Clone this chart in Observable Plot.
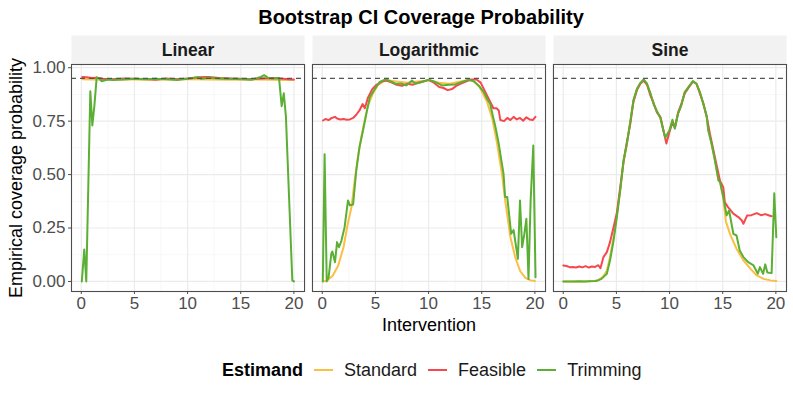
<!DOCTYPE html>
<html>
<head>
<meta charset="utf-8">
<script src="https://cdn.jsdelivr.net/npm/d3@7"></script>
<script src="https://cdn.jsdelivr.net/npm/@observablehq/plot@0.6"></script>
<style>
  html, body { margin: 0; padding: 0; background: white; }
  body { width: 793px; height: 397px; position: relative; overflow: hidden; font-family: "Liberation Sans", Arial, sans-serif; }
  #title { position: absolute; left: 71px; width: 700px; top: 0; height: 34px; line-height: 34px; text-align: center; font-weight: bold; font-size: 20px; color: #000; }
  #chart { position: absolute; left: 0; top: 33px; }
  #legend { position: absolute; left: 222px; top: 359px; height: 22px; display: flex; align-items: center; font-size: 18px; color: #1a1a1a; white-space: nowrap; }
  #legend .hd { font-weight: bold; color: #000; margin-right: 11px; }
  #legend .sw { width: 19px; height: 2px; margin-right: 11px; }
  #legend .lb { margin-right: 11px; }
</style>
</head>
<body>
<div id="title">Bootstrap CI Coverage Probability</div>
<div id="chart"></div>
<div id="legend"></div>
<script>
// ---- categories / labels ----
const panels = ["Linear", "Logarithmic", "Sine"];
const estimands = ["Standard", "Feasible", "Trimming"];
const estimandColors = ["#FBBF45", "#F7484E", "#5BAF35"];
const xTicks = [0, 5, 10, 15, 20];
const xMinorTicks = [2.5, 7.5, 12.5, 17.5];
const yTicks = [0, 0.25, 0.5, 0.75, 1];
const yMinorTicks = [0.125, 0.375, 0.625, 0.875];
const targetLevel = [0.95];
const titleText = "Bootstrap CI Coverage Probability";
const xLabel = "Intervention";
const yLabel = "Empirical coverage probability";
const legendTitle = "Estimand";

// ---- Linear ----
const linStdX = [0.1, 2, 4, 6, 8, 10, 12, 14, 16, 18, 19, 20];
const linStdY = [0.946, 0.944, 0.946, 0.944, 0.945, 0.946, 0.945, 0.944, 0.945, 0.944, 0.943, 0.943];
const linFeaX = [0.1, 0.5, 1, 1.5, 2, 3, 4, 5, 6, 7, 8, 9, 10, 11, 12, 13, 14, 15, 16, 17, 18, 19, 19.5, 20];
const linFeaY = [0.957, 0.955, 0.952, 0.953, 0.948, 0.946, 0.950, 0.948, 0.947, 0.944, 0.949, 0.946, 0.950, 0.955, 0.957, 0.952, 0.950, 0.948, 0.946, 0.950, 0.952, 0.948, 0.946, 0.945];
const linTrimX = [0.05, 0.28, 0.47, 0.85, 1.04, 1.23, 1.45, 1.7, 1.9, 2.5, 3, 4, 5, 6, 7, 8, 9, 10, 10.5, 11, 11.3, 12, 13, 14, 15, 16, 16.8, 17.2, 17.6, 18, 18.6, 18.85, 19.05, 19.25, 19.85, 20.0];
const linTrimY = [0, 0.15, 0, 0.89, 0.73, 0.82, 0.955, 0.95, 0.937, 0.945, 0.942, 0.945, 0.948, 0.946, 0.948, 0.946, 0.942, 0.948, 0.952, 0.955, 0.948, 0.953, 0.95, 0.948, 0.946, 0.944, 0.955, 0.965, 0.952, 0.95, 0.952, 0.82, 0.88, 0.77, 0.005, 0];

// ---- Logarithmic ----
const logStdX = [0.07, 0.5, 1, 1.5, 2, 2.4, 2.75, 3.05, 3.35, 3.67, 3.97, 4.3, 4.75, 5.2, 5.7, 6.2, 7, 8, 9, 10, 11, 12, 13, 13.8, 14.3, 14.8, 15.5, 16, 16.45, 16.9, 17.2, 17.7, 18.15, 18.6, 19.1, 19.6, 20];
const logStdY = [0, 0.005, 0.028, 0.075, 0.16, 0.27, 0.348, 0.473, 0.58, 0.675, 0.75, 0.823, 0.878, 0.917, 0.935, 0.94, 0.935, 0.93, 0.935, 0.94, 0.93, 0.925, 0.935, 0.942, 0.935, 0.91, 0.84, 0.76, 0.644, 0.504, 0.38, 0.207, 0.114, 0.05, 0.017, 0.005, 0.002];
const logFeaX = [0.07, 0.3, 0.6, 0.9, 1.2, 1.4, 1.7, 2.0, 2.3, 2.6, 2.9, 3.2, 3.5, 3.8, 4.0, 4.3, 4.7, 5.1, 5.6, 6.0, 6.5, 7.0, 7.5, 8.0, 8.5, 9.0, 9.5, 10, 10.5, 11, 11.4, 11.8, 12.2, 12.6, 13, 13.5, 14, 14.5, 14.9, 15.2, 15.65, 15.9, 16.1, 16.4, 16.6, 16.75, 17.1, 17.4, 17.7, 18, 18.3, 18.6, 18.9, 19.2, 19.5, 19.8, 20.05];
const logFeaY = [0.753, 0.76, 0.755, 0.765, 0.77, 0.762, 0.758, 0.76, 0.757, 0.758, 0.765, 0.78, 0.8, 0.83, 0.81, 0.86, 0.9, 0.92, 0.935, 0.94, 0.932, 0.92, 0.915, 0.925, 0.92, 0.93, 0.935, 0.943, 0.93, 0.91, 0.905, 0.895, 0.9, 0.915, 0.925, 0.935, 0.945, 0.945, 0.93, 0.90, 0.855, 0.83, 0.81, 0.81, 0.80, 0.755, 0.75, 0.765, 0.755, 0.77, 0.758, 0.765, 0.752, 0.768, 0.758, 0.755, 0.77];
const logTrimX = [0.05, 0.22, 0.42, 0.6, 0.85, 0.95, 1.2, 1.39, 1.57, 1.8, 2.1, 2.42, 2.6, 2.9, 3.2, 3.5, 3.84, 4.15, 4.47, 4.94, 5.4, 5.7, 6.0, 6.5, 6.86, 7.5, 7.9, 8.44, 8.75, 9.38, 10.0, 10.65, 11.26, 11.9, 12.5, 13.14, 13.77, 14.25, 14.7, 15.2, 15.5, 15.8, 16.0, 16.3, 16.6, 16.9, 17.05, 17.2, 17.4, 17.77, 18.0, 18.4, 18.6, 18.8, 19.0, 19.2, 19.4, 19.6, 19.85, 20.06];
const logTrimY = [0, 0.595, 0, 0.02, 0.13, 0.14, 0.09, 0.184, 0.16, 0.19, 0.254, 0.379, 0.356, 0.36, 0.52, 0.628, 0.707, 0.785, 0.862, 0.90, 0.933, 0.94, 0.945, 0.935, 0.925, 0.925, 0.917, 0.94, 0.925, 0.933, 0.944, 0.933, 0.917, 0.92, 0.922, 0.933, 0.944, 0.937, 0.917, 0.886, 0.855, 0.83, 0.785, 0.72, 0.644, 0.55, 0.504, 0.395, 0.395, 0.223, 0.24, 0.106, 0.379, 0.16, 0.22, 0.293, 0.012, 0.379, 0.636, 0.02];

// ---- Sine ----
const sinStdX = [0, 1, 2, 3, 3.3, 3.7, 4.1, 4.4, 4.73, 5.04, 5.36, 5.67, 5.98, 6.3, 6.6, 6.93, 7.25, 7.56, 7.88, 8.2, 8.5, 8.82, 9.14, 9.45, 9.6, 10.0, 10.27, 10.5, 10.8, 11.1, 11.43, 11.9, 12.2, 12.53, 12.85, 13.17, 13.5, 13.64, 13.95, 14.27, 14.6, 14.75, 15.05, 15.3, 15.7, 16.3, 16.95, 17.6, 18.2, 18.85, 19.5, 20.04];
const sinStdY = [0, 0, 0, 0.003, 0.006, 0.02, 0.05, 0.115, 0.205, 0.31, 0.43, 0.56, 0.64, 0.745, 0.845, 0.90, 0.928, 0.943, 0.925, 0.88, 0.83, 0.795, 0.765, 0.70, 0.675, 0.707, 0.75, 0.72, 0.785, 0.823, 0.886, 0.917, 0.935, 0.925, 0.886, 0.83, 0.77, 0.707, 0.644, 0.566, 0.473, 0.465, 0.39, 0.28, 0.22, 0.153, 0.098, 0.06, 0.028, 0.012, 0.005, 0.002];
const sinFeaX = [0, 0.3, 0.6, 0.9, 1.2, 1.5, 1.8, 2.1, 2.4, 2.7, 3.0, 3.3, 3.5, 3.78, 4.1, 4.4, 4.73, 5.04, 5.36, 5.67, 5.98, 6.3, 6.6, 6.93, 7.25, 7.56, 7.88, 8.2, 8.5, 8.82, 9.14, 9.45, 9.7, 10.0, 10.27, 10.5, 10.8, 11.1, 11.43, 11.9, 12.2, 12.53, 12.85, 13.17, 13.5, 13.8, 14.1, 14.4, 14.75, 15.05, 15.2, 15.5, 16.0, 16.5, 16.8, 16.95, 17.3, 17.7, 18.2, 18.6, 19.0, 19.3, 19.6];
const sinFeaY = [0.075, 0.072, 0.067, 0.068, 0.065, 0.07, 0.066, 0.072, 0.065, 0.07, 0.068, 0.076, 0.062, 0.114, 0.137, 0.184, 0.254, 0.32, 0.44, 0.56, 0.65, 0.735, 0.84, 0.895, 0.925, 0.94, 0.92, 0.87, 0.835, 0.79, 0.77, 0.70, 0.645, 0.70, 0.745, 0.72, 0.79, 0.83, 0.88, 0.915, 0.935, 0.925, 0.88, 0.835, 0.77, 0.69, 0.62, 0.55, 0.47, 0.441, 0.37, 0.348, 0.317, 0.30, 0.285, 0.27, 0.309, 0.31, 0.32, 0.31, 0.315, 0.31, 0.305];
const sinTrimX = [0, 0.5, 1, 1.5, 2, 2.5, 3, 3.15, 3.6, 4.1, 4.4, 4.73, 5.04, 5.36, 5.67, 5.98, 6.3, 6.6, 6.93, 7.25, 7.56, 7.88, 8.2, 8.5, 8.82, 9.14, 9.45, 9.6, 10.0, 10.27, 10.5, 10.8, 11.1, 11.43, 11.9, 12.2, 12.53, 12.85, 13.17, 13.5, 13.64, 13.95, 14.27, 14.6, 14.75, 15.05, 15.37, 15.6, 16.0, 16.3, 16.6, 16.95, 17.4, 17.9, 18.3, 18.5, 18.8, 19.0, 19.2, 19.6, 19.85, 20.04];
const sinTrimY = [0, 0, 0, 0.001, 0, 0.001, 0.002, 0.003, 0.012, 0.036, 0.098, 0.19, 0.30, 0.426, 0.566, 0.644, 0.745, 0.847, 0.90, 0.928, 0.945, 0.925, 0.88, 0.83, 0.795, 0.765, 0.70, 0.672, 0.707, 0.757, 0.715, 0.785, 0.823, 0.886, 0.917, 0.937, 0.925, 0.886, 0.832, 0.77, 0.707, 0.644, 0.566, 0.473, 0.465, 0.395, 0.309, 0.332, 0.223, 0.215, 0.145, 0.114, 0.09, 0.075, 0.036, 0.067, 0.036, 0.08, 0.042, 0.039, 0.413, 0.207];

// ---- build table ----
function series(panel, estimand, xs, ys) {
  return xs.map((x, i) => ({panel, estimand, x, y: ys[i]}));
}
const rows = [
  ...series("Linear", "Standard", linStdX, linStdY),
  ...series("Linear", "Feasible", linFeaX, linFeaY),
  ...series("Linear", "Trimming", linTrimX, linTrimY),
  ...series("Logarithmic", "Standard", logStdX, logStdY),
  ...series("Logarithmic", "Feasible", logFeaX, logFeaY),
  ...series("Logarithmic", "Trimming", logTrimX, logTrimY),
  ...series("Sine", "Standard", sinStdX, sinStdY),
  ...series("Sine", "Feasible", sinFeaX, sinFeaY),
  ...series("Sine", "Trimming", sinTrimX, sinTrimY)
];

const lineMarks = estimands.map(e => Plot.line(rows.filter(d => d.estimand === e), {
  fx: "panel", x: "x", y: "y", stroke: "estimand", strokeWidth: 2, z: "panel"
}));

const chart = Plot.plot({
  width: 793,
  height: 305,
  marginLeft: 71,
  marginRight: 7,
  marginTop: 31,
  marginBottom: 47,
  style: {fontFamily: "'Liberation Sans', Arial, sans-serif", fontSize: "17px", color: "#4D4D4D", background: "white", overflow: "visible"},
  fx: {domain: panels, paddingInner: 0.033, paddingOuter: 0, round: false, axis: null, label: null},
  x: {domain: [-0.92, 21.0], ticks: xTicks, tickSize: 3, tickPadding: 2, label: null},
  y: {domain: [-0.047, 1.015], ticks: yTicks, tickFormat: d3.format(".2f"), tickSize: 3, tickPadding: 3, label: null},
  color: {domain: estimands, range: estimandColors},
  marks: [
    Plot.frame({fill: "#F2F2F2", insetTop: -29, insetBottom: 227}),
    Plot.ruleX(xMinorTicks, {stroke: "#F4F4F4", strokeWidth: 0.7}),
    Plot.ruleY(yMinorTicks, {stroke: "#F4F4F4", strokeWidth: 0.7}),
    Plot.ruleX(xTicks, {stroke: "#EBEBEB", strokeWidth: 1.2}),
    Plot.ruleY(yTicks, {stroke: "#EBEBEB", strokeWidth: 1.2}),
    ...lineMarks,
    Plot.ruleY(targetLevel, {stroke: "#555555", strokeWidth: 1.1, strokeDasharray: "5,4"}),
    Plot.frame({stroke: "#4D4D4D", strokeWidth: 1.1}),
    Plot.text(panels, {fx: d => d, text: d => d, frameAnchor: "top", lineAnchor: "middle", textAnchor: "middle", dy: -14.5, fontWeight: "bold", fontSize: 17.5, fill: "#1A1A1A"}),
    Plot.text([yLabel], {fx: () => "Linear", text: d => d, frameAnchor: "left", textAnchor: "middle", lineAnchor: "middle", dx: -55, rotate: -90, fontSize: 18, fill: "#000"}),
    Plot.text([xLabel], {fx: () => "Logarithmic", text: d => d, frameAnchor: "bottom", textAnchor: "middle", lineAnchor: "middle", dy: 34, fontSize: 18, fill: "#000"})
  ]
});
document.getElementById("chart").appendChild(chart);

// ---- legend ----
const legend = d3.select("#legend");
legend.append("span").attr("class", "hd").text(legendTitle);
estimands.forEach((e, i) => {
  legend.append("span").attr("class", "sw").style("background", estimandColors[i]);
  legend.append("span").attr("class", "lb").text(e);
});
</script>
</body>
</html>
